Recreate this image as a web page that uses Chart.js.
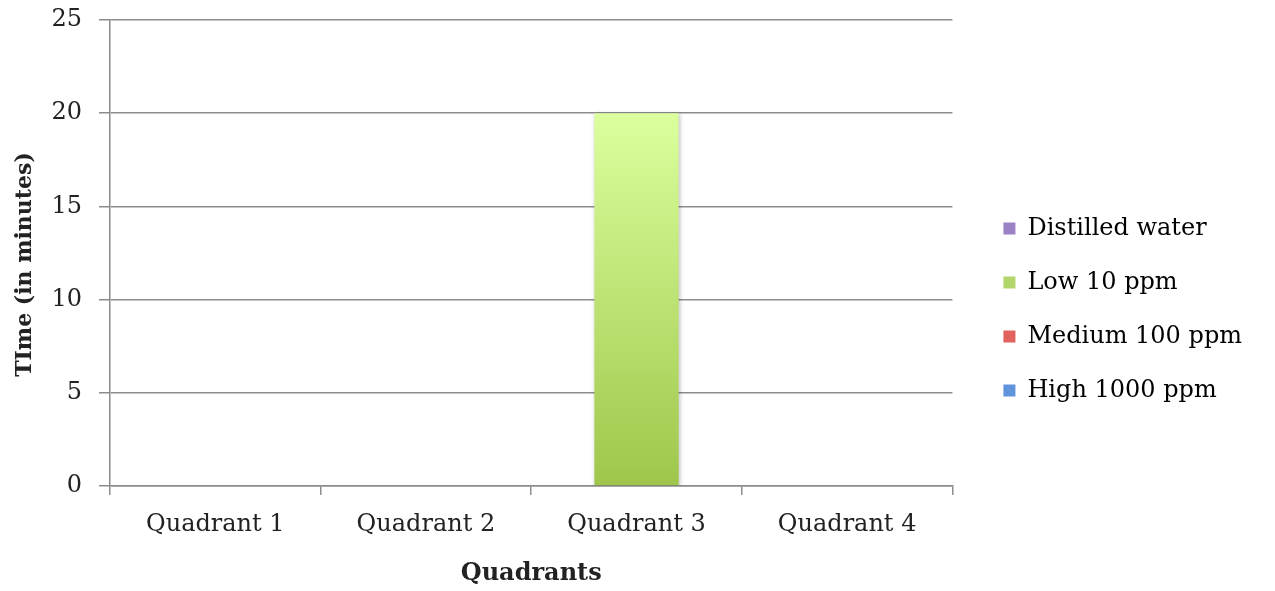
<!DOCTYPE html>
<html>
<head>
<meta charset="utf-8">
<script src="https://cdn.jsdelivr.net/npm/chart.js@4/dist/chart.umd.min.js"></script>
<style>
html,body{margin:0;padding:0;background:#fff;}
#wrap{width:1275px;height:591px;position:relative;}
</style>
</head>
<body>
<div id="wrap"><canvas id="c" width="1275" height="591"></canvas></div>
<script>
const categories = ['Quadrant 1', 'Quadrant 2', 'Quadrant 3', 'Quadrant 4'];
const seriesNames = ['Distilled water', 'Low 10 ppm', 'Medium 100 ppm', 'High 1000 ppm'];
const distilledWater = [0, 0, 0, 0];
const low10 = [0, 0, 20, 0];
const medium100 = [0, 0, 0, 0];
const high1000 = [0, 0, 0, 0];
const yTicks = [0, 5, 10, 15, 20, 25];

const colorsTop = ['#b7a3d9', '#dbff9d', '#f08b86', '#8db4ec'];
const colorsBottom = ['#7d62a8', '#9fc64b', '#c8403c', '#4a7fcb'];
const legendColors = ['#9a82c4', '#b3d66c', '#e2625d', '#5f93dc'];
const valueArrays = [distilledWater, low10, medium100, high1000];

function grad(i) {
  return function(ctx) {
    const chart = ctx.chart;
    const area = chart.chartArea;
    if (!area || ctx.type !== 'data') return colorsBottom[i];
    const ys = chart.scales.y;
    const top = ys.getPixelForValue(valueArrays[i][ctx.dataIndex]);
    const base = ys.getPixelForValue(0);
    if (!Number.isFinite(top) || !Number.isFinite(base) || top === base) return colorsBottom[i];
    const g = chart.ctx.createLinearGradient(0, top, 0, base);
    g.addColorStop(0, colorsTop[i]);
    g.addColorStop(1, colorsBottom[i]);
    return g;
  };
}

const serif = '"DejaVu Serif", serif';

const shadowPlugin = {
  id: 'barShadow',
  beforeDatasetsDraw(chart) {
    chart.ctx.save();
    chart.ctx.shadowColor = 'rgba(0,0,0,0.25)';
    chart.ctx.shadowBlur = 4;
    chart.ctx.shadowOffsetX = 1;
    chart.ctx.shadowOffsetY = 1;
  },
  afterDatasetsDraw(chart) {
    chart.ctx.restore();
  }
};

// move the legend a little away from the plot, as in the reference
const legendShift = {
  id: 'legendShift',
  afterLayout(chart) {
    const lg = chart.legend;
    if (!lg) return;
    lg.left += 21; lg.right += 21;
    lg.top += 5; lg.bottom += 5;
  }
};

new Chart(document.getElementById('c'), {
  type: 'bar',
  data: {
    labels: categories,
    datasets: seriesNames.map((name, i) => ({
      label: name,
      data: valueArrays[i],
      backgroundColor: grad(i),
      borderWidth: 0
    }))
  },
  options: {
    responsive: false,
    animation: false,
    layout: { padding: { top: 20, right: 44, bottom: 2, left: 12 } },
    datasets: { bar: { categoryPercentage: 0.8, barPercentage: 0.5 } },
    scales: {
      x: {
        stacked: true,
        afterFit(axis) { axis.height = 103; axis.paddingLeft = 0; axis.paddingRight = 0; },
        grid: { offset: true, drawOnChartArea: false, drawTicks: true, tickLength: 9, color: '#8c8c8c', lineWidth: 1.5 },
        border: { color: '#8c8c8c', width: 1.5 },
        ticks: { color: '#222', font: { family: serif, size: 24 }, padding: 15 },
        title: { display: true, text: 'Quadrants', color: '#222', font: { family: serif, size: 24, weight: 'bold' }, padding: { top: 0, bottom: 1 } }
      },
      y: {
        stacked: true,
        min: 0, max: 25,
        afterBuildTicks(axis) { axis.ticks = yTicks.map(v => ({ value: v })); },
        afterFit(axis) { axis.width = 98; axis.paddingTop = 0; axis.paddingBottom = 0; },
        grid: { color: '#8c8c8c', lineWidth: 1.5, tickLength: 11 },
        border: { color: '#8c8c8c', width: 1.5 },
        ticks: { color: '#222', font: { family: serif, size: 24 }, padding: 17 },
        title: { display: true, text: 'TIme (in minutes)   ', color: '#222', font: { family: serif, size: 22, weight: 'bold' }, padding: { top: 0, bottom: 0 } }
      }
    },
    plugins: {
      legend: {
        position: 'right',
        align: 'center',
        labels: {
          color: '#111',
          font: { family: serif, size: 24 },
          boxWidth: 12, boxHeight: 12,
          padding: 30,
          generateLabels(chart) {
            return seriesNames.map((n, i) => ({
              text: n, fillStyle: legendColors[i], strokeStyle: legendColors[i], lineWidth: 0,
              datasetIndex: i, hidden: false
            }));
          }
        }
      },
      tooltip: { enabled: false }
    }
  },
  plugins: [shadowPlugin, legendShift]
});
</script>
</body>
</html>
